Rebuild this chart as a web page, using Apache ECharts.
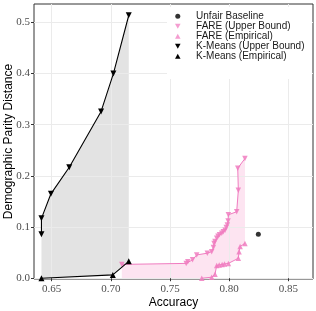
<!DOCTYPE html>
<html><head><meta charset="utf-8">
<script src="https://cdn.jsdelivr.net/npm/echarts@6/dist/echarts.min.js"></script>
<style>html,body{margin:0;padding:0;background:#fff}#c{width:316px;height:311px}</style>
</head><body><div id="c"></div>
<script>
// ---- data ----
const xTicks = [0.65, 0.70, 0.75, 0.80, 0.85];
const yTicks = [0.0, 0.1, 0.2, 0.3, 0.4, 0.5];

const baselineAcc = [0.8246];
const baselineDpd = [0.086];

const fareUbAcc = [0.7092, 0.7636, 0.7650, 0.7690, 0.7725, 0.7815, 0.7852, 0.7866, 0.7872, 0.7880, 0.7894, 0.7905, 0.7918, 0.7937, 0.7950, 0.7965, 0.7975, 0.7984, 0.7990, 0.7993, 0.8063, 0.8077, 0.8072, 0.8133];
const fareUbDpd = [0.027, 0.029, 0.032, 0.036, 0.0455, 0.049, 0.052, 0.060, 0.068, 0.072, 0.078, 0.082, 0.085, 0.088, 0.091, 0.094, 0.099, 0.104, 0.112, 0.124, 0.130, 0.172, 0.215, 0.234];

const fareEmpAcc = [0.7768, 0.7852, 0.7880, 0.7894, 0.7915, 0.7940, 0.7960, 0.7993, 0.8077, 0.8083, 0.8092, 0.8133];
const fareEmpDpd = [0.000, 0.002, 0.008, 0.025, 0.026, 0.027, 0.028, 0.029, 0.039, 0.052, 0.062, 0.068];

const kmUbAcc = [0.6413, 0.6413, 0.6493, 0.6648, 0.6917, 0.7021, 0.7151];
const kmUbDpd = [0.086, 0.117, 0.165, 0.217, 0.326, 0.400, 0.514];

const kmEmpAcc = [0.6413, 0.7016, 0.7151];
const kmEmpDpd = [0.000, 0.0065, 0.033];

const names = ['Unfair Baseline', 'FARE (Upper Bound)', 'FARE (Empirical)', 'K-Means (Upper Bound)', 'K-Means (Empirical)'];

// ---- helpers ----
const zip = (a, b) => a.map((v, i) => [v, b[i]]);
function band(upA, upD, loA, loD) {
  const pts = zip(upA, upD);
  const lo = zip(loA, loD).reverse();
  pts.push(...lo);
  if (loA[0] > upA[0]) pts.push([upA[0], 0]);
  return pts;
}
const kmBand = band(kmUbAcc, kmUbDpd, kmEmpAcc, kmEmpDpd);
const fareBand = band(fareUbAcc, fareUbDpd, fareEmpAcc, fareEmpDpd);

function polySeries(pts, color) {
  return {
    type: 'custom', z: -1, silent: true, legendHoverLink: false,
    coordinateSystem: 'cartesian2d',
    data: [[pts[0][0], pts[0][1]]],
    clip: true,
    renderItem: function (params, api) {
      return {
        type: 'polygon',
        shape: { points: pts.map(p => api.coord(p)) },
        style: { fill: color, stroke: 'none' }
      };
    }
  };
}

const PINK = '#f07cc0';
const DOWN = 'path://M0,0L10,0L5,9Z';
const UP = 'path://M5,0L10,9L0,9Z';

const chart = echarts.init(document.getElementById('c'), null, { renderer: 'canvas' });
chart.setOption({
  animation: false,
  backgroundColor: '#fff',
  grid: { left: 34, right: 3, top: 4, bottom: 32, show: true, borderColor: '#333', borderWidth: 1, backgroundColor: 'transparent', containLabel: false, outerBoundsMode: 'none' },
  xAxis: {
    type: 'value', min: 0.635, max: 0.8708,
    axisLine: { show: false },
    axisTick: { show: true, length: 3, lineStyle: { color: '#333' }, customValues: xTicks },
    axisLabel: { customValues: xTicks, formatter: v => v.toFixed(2), fontFamily: 'Liberation Serif', fontSize: 11, color: '#4d4d4d', margin: 5 },
    splitLine: { show: true, lineStyle: { color: '#ebebeb', width: 1 } },
    name: 'Accuracy', nameLocation: 'middle', nameGap: 18, nameMoveOverlap: false,
    nameTextStyle: { fontFamily: 'Liberation Sans', fontSize: 12, color: '#000' }
  },
  yAxis: {
    type: 'value', min: -0.0015, max: 0.536,
    axisLine: { show: false },
    axisTick: { show: true, length: 3, lineStyle: { color: '#333' }, customValues: yTicks },
    axisLabel: { customValues: yTicks, formatter: v => v.toFixed(1), fontFamily: 'Liberation Serif', fontSize: 11, color: '#4d4d4d', margin: 4 },
    splitLine: { show: true, lineStyle: { color: '#ebebeb', width: 1 } },
    name: 'Demographic Parity Distance', nameLocation: 'middle', nameGap: 19, nameMoveOverlap: false,
    nameTextStyle: { fontFamily: 'Liberation Sans', fontSize: 12, color: '#000' }
  },
  graphic: [{ type: 'rect', z: 1, shape: { x: 167, y: 7, width: 145, height: 72 }, style: { fill: '#fff' } }],
  legend: {
    orient: 'vertical', left: 175, top: 11.2, padding: 0, itemGap: 0,
    itemWidth: 26.6, itemHeight: 5, z: 5,
    textStyle: { fontFamily: 'Liberation Sans', fontSize: 10, color: '#1a1a1a', lineHeight: 9 },
    data: [
      { name: names[0], icon: 'circle' },
      { name: names[1], icon: DOWN, itemStyle: { opacity: 0.75 } },
      { name: names[2], icon: UP, itemStyle: { opacity: 0.75 } },
      { name: names[3], icon: DOWN },
      { name: names[4], icon: UP }
    ]
  },
  series: [
    polySeries(kmBand, '#e3e3e3'),
    polySeries(fareBand, '#fde4f1'),
    {
      name: names[3], type: 'line', data: zip(kmUbAcc, kmUbDpd),
      symbol: 'triangle', symbolRotate: 180, symbolSize: 6,
      itemStyle: { color: '#000' }, lineStyle: { color: '#000', width: 1.1 }, z: 3
    },
    {
      name: names[4], type: 'line', data: zip(kmEmpAcc, kmEmpDpd),
      symbol: 'triangle', symbolSize: 6,
      itemStyle: { color: '#000' }, lineStyle: { color: '#000', width: 1.1 }, z: 3
    },
    {
      name: names[1], type: 'line', data: zip(fareUbAcc, fareUbDpd),
      symbol: 'triangle', symbolRotate: 180, symbolSize: 5.5,
      itemStyle: { color: PINK, opacity: 0.85 }, lineStyle: { color: PINK, width: 1, opacity: 1 }, z: 2
    },
    {
      name: names[2], type: 'line', data: zip(fareEmpAcc, fareEmpDpd),
      symbol: 'triangle', symbolSize: 5.5,
      itemStyle: { color: PINK, opacity: 0.85 }, lineStyle: { color: PINK, width: 1, opacity: 1 }, z: 2
    },
    {
      name: names[0], type: 'scatter', data: zip(baselineAcc, baselineDpd),
      symbol: 'circle', symbolSize: 5, itemStyle: { color: '#000' }, z: 3
    }
  ]
});
</script></body></html>
